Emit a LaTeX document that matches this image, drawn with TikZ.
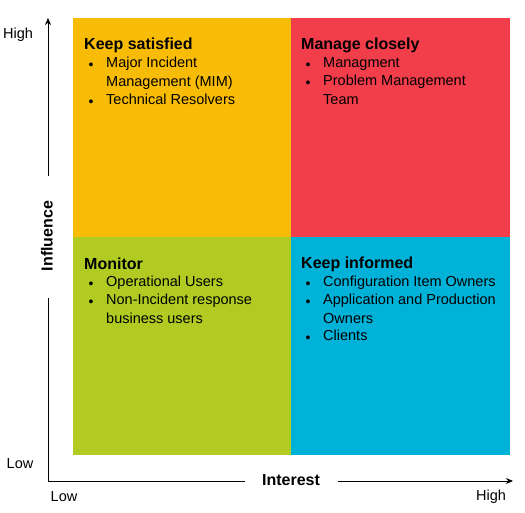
\documentclass[tikz,border=0pt]{standalone}
\usepackage{fontspec}
\setmainfont{Liberation Sans}
\usetikzlibrary{arrows.meta}
\definecolor{qor}{HTML}{F9BC06}
\definecolor{qred}{HTML}{F23D4A}
\definecolor{qgr}{HTML}{B2CB22}
\definecolor{qbl}{HTML}{00B1D8}
\begin{document}
\begin{tikzpicture}[x=1pt,y=-1pt,
  quad/.style={draw=none},
  ttl/.style={anchor=west,inner sep=0pt,font=\fontsize{16}{18}\selectfont\bfseries},
  itm/.style={anchor=north west,inner sep=0pt,align=left,font=\fontsize{14.5}{18.5}\selectfont},
  bul/.style={anchor=center,inner sep=0pt,font=\fontsize{14}{18}\selectfont},
  lbl/.style={inner sep=0pt,font=\fontsize{14.5}{17}\selectfont},
  ax/.style={line width=0.8pt,-{Stealth[length=7pt,width=6pt]}}]
\useasboundingbox (0,0) rectangle (525,513);
\fill[qor] (73,18) rectangle (291,237);
\fill[qred] (291,18) rectangle (510,237);
\fill[qgr] (73,237) rectangle (291,455);
\fill[qbl] (291,237) rectangle (510,455);
% titles
\node[ttl] (t1) at (84,45) {Keep satisfied};
\node[ttl] (t2) at (301,45) {Manage closely};
\node[ttl] (t3) at (84,264) {Monitor};
\node[ttl] (t4) at (301,264) {Keep informed};
% items
\node[bul] (b11) at (91,66) {•}; \node[itm] (i11) at (106,57) {Major Incident\\Management (MIM)};
\node[bul] (b12) at (91,103) {•}; \node[itm] (i12) at (106,94) {Technical Resolvers};
\node[bul] (b21) at (308,66) {•}; \node[itm] (i21) at (323,57) {Managment};
\node[bul] (b22) at (308,84) {•}; \node[itm] (i22) at (323,75) {Problem Management\\Team};
\node[bul] (b31) at (91,285) {•}; \node[itm] (i31) at (106,276) {Operational Users};
\node[bul] (b32) at (91,303) {•}; \node[itm] (i32) at (106,294) {Non-Incident response\\business users};
\node[bul] (b41) at (308,285) {•}; \node[itm] (i41) at (323,276) {Configuration Item Owners};
\node[bul] (b42) at (308,303) {•}; \node[itm] (i42) at (323,294) {Application and Production\\Owners};
\node[bul] (b43) at (308,339) {•}; \node[itm] (i43) at (323,330) {Clients};
% axes
\coordinate (o) at (48,481);
\coordinate (ytop) at (48,18);
\coordinate (xend) at (513,481);
\node[font=\fontsize{16}{18}\selectfont\bfseries,rotate=90,inner sep=0pt] (yl) at (47,236) {Influence};
\node[font=\fontsize{16}{18}\selectfont\bfseries,inner sep=0pt] (xl) at (291,480) {Interest};
\draw[line width=0.8pt] (o) -- (48,298);
\draw[ax] (48,176) -- (ytop);
\draw[line width=0.8pt] (o) -- (245,481);
\draw[ax] (338,481) -- (xend);
\node[lbl] (h1) at (18,35) {High};
\node[lbl] (l1) at (20,464) {Low};
\node[lbl] (l2) at (64,497) {Low};
\node[lbl] (h2) at (491,497) {High};
\end{tikzpicture}
\end{document}
